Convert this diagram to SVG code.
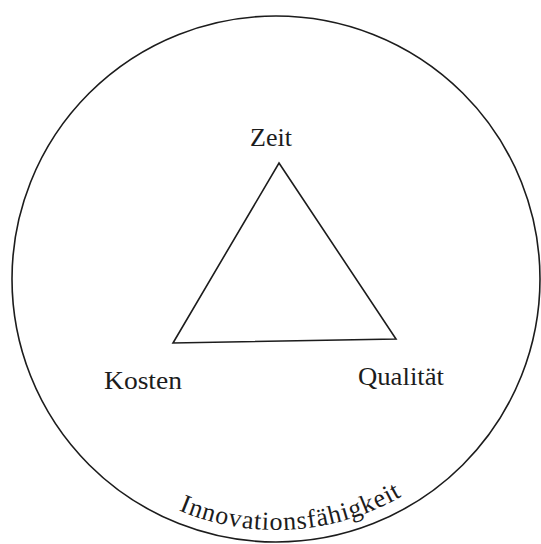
<svg xmlns="http://www.w3.org/2000/svg" width="541" height="544" viewBox="0 0 541 544">
<style>
.line{fill:none;stroke:#1c1c1c;stroke-width:1.6;stroke-linejoin:miter}
.lbl{font-family:"Liberation Serif","Times New Roman",serif;font-size:26px;fill:#1c1c1c}
</style>
<defs>
<path id="arc" d="M 25 279 A 251 251 0 0 0 527 279"/>
</defs>
<rect width="541" height="544" fill="#ffffff"/>
<g id="circle">
<ellipse class="line" cx="276" cy="279" rx="264" ry="263"/>
<text class="lbl"><textPath href="#arc" startOffset="410" text-anchor="middle" textLength="232" lengthAdjust="spacing">Innovationsfähigkeit</textPath></text>
</g>
<g id="connectors">
<polygon class="line" points="279,163 396,339 173,343"/>
</g>
<g id="zeit"><text class="lbl" x="271" y="146" text-anchor="middle">Zeit</text></g>
<g id="kosten"><text class="lbl" x="104" y="389" textLength="78" lengthAdjust="spacingAndGlyphs">Kosten</text></g>
<g id="qualitaet"><text class="lbl" x="358" y="385" textLength="86" lengthAdjust="spacingAndGlyphs">Qualität</text></g>
</svg>
